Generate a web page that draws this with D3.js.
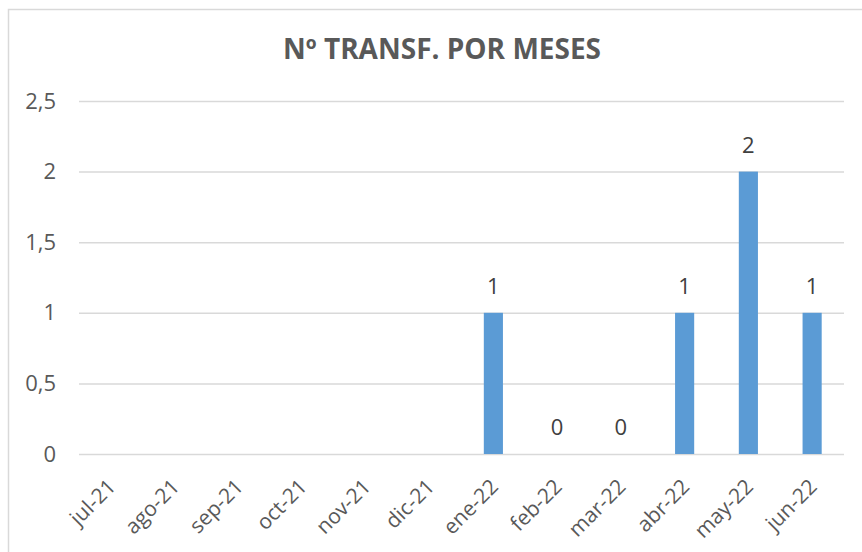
<!DOCTYPE html>
<html>
<head>
<meta charset="utf-8">
<script src="https://cdn.jsdelivr.net/npm/d3@7"></script>
<style>
  body { margin: 0; background: #fff; }
  svg text { font-family: "Open Sans", "Noto Sans", sans-serif; }
</style>
</head>
<body>
<svg id="chart"></svg>
<script>
// data
const months = ['jul-21', 'ago-21', 'sep-21', 'oct-21', 'nov-21', 'dic-21',
                'ene-22', 'feb-22', 'mar-22', 'abr-22', 'may-22', 'jun-22'];
const transfers = [null, null, null, null, null, null, 1, 0, 0, 1, 2, 1];
const yTicks = [0, 0.5, 1, 1.5, 2, 2.5];
const title = 'Nº TRANSF. POR MESES';

const width = 862, height = 552;
const margin = { top: 101, right: 18, bottom: 98, left: 79 };

const svg = d3.select('#chart')
    .attr('width', width)
    .attr('height', height);

// chart frame
svg.append('rect')
    .attr('x', 8.5).attr('y', 9.5)
    .attr('width', width + 10).attr('height', height + 10)
    .attr('fill', '#fff')
    .attr('stroke', '#d9d9d9')
    .attr('stroke-width', 1.5);

svg.append('text')
    .attr('x', 442).attr('y', 59)
    .attr('text-anchor', 'middle')
    .attr('font-size', 28)
    .attr('font-weight', 'bold')
    .attr('fill', '#595959')
    .text(title);

const x = d3.scaleBand()
    .domain(months)
    .range([margin.left, width - margin.right]);

const y = d3.scaleLinear()
    .domain([0, 2.5])
    .range([height - margin.bottom, margin.top]);

const fmt = d => String(d).replace('.', ',');

// gridlines + y labels
const yAxis = svg.append('g')
    .attr('transform', 'translate(' + margin.left + ',0)')
    .call(d3.axisLeft(y).tickValues(yTicks).tickFormat(fmt)
        .tickSize(-(width - margin.left - margin.right)).tickPadding(23));
yAxis.select('.domain').remove();
yAxis.selectAll('line').attr('stroke', '#d9d9d9').attr('stroke-width', 1.5);
yAxis.selectAll('text').attr('font-size', 22).attr('fill', '#595959');

// x labels
const xAxis = svg.append('g')
    .attr('transform', 'translate(0,' + y(0) + ')')
    .call(d3.axisBottom(x).tickSize(0));
xAxis.select('.domain').remove();
xAxis.selectAll('text')
    .attr('font-size', 21)
    .attr('fill', '#595959')
    .attr('text-anchor', 'end')
    .attr('dy', 0)
    .attr('transform', 'translate(4,32) rotate(-45)');

// bars
const barW = x.bandwidth() * 0.3;
const vals = months.map((m, i) => ({ m: m, v: transfers[i] })).filter(d => d.v !== null);

svg.append('g')
    .attr('fill', '#5b9bd5')
    .selectAll('rect')
    .data(vals)
    .join('rect')
    .attr('x', d => x(d.m) + (x.bandwidth() - barW) / 2)
    .attr('y', d => y(d.v))
    .attr('width', barW)
    .attr('height', d => y(0) - y(d.v));

// data labels
svg.append('g')
    .selectAll('text')
    .data(vals)
    .join('text')
    .attr('x', d => x(d.m) + x.bandwidth() / 2)
    .attr('y', d => y(d.v) - 19)
    .attr('text-anchor', 'middle')
    .attr('font-size', 22)
    .attr('fill', '#404040')
    .text(d => d.v);
</script>
</body>
</html>
